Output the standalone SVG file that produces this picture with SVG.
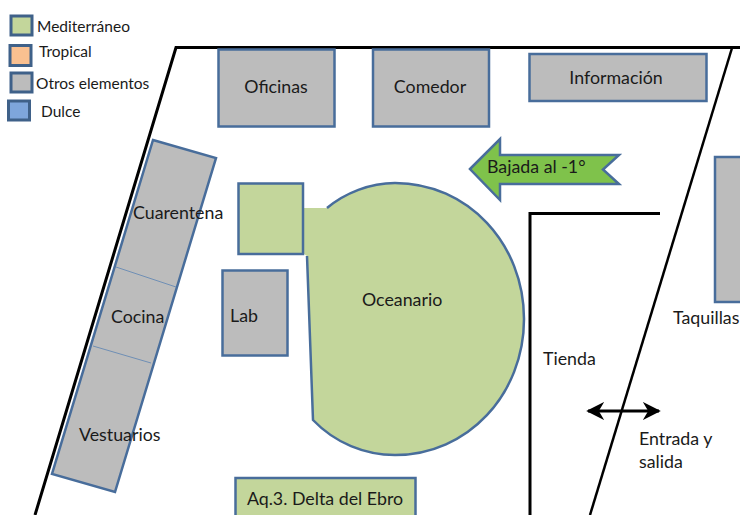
<svg xmlns="http://www.w3.org/2000/svg" width="740" height="515" viewBox="0 0 740 515">
<style>
text{font-family:Lato,"Liberation Sans",sans-serif;font-size:17.800px;fill:#1a1a1a}
.l{font-size:15.500px}
.g{fill:#bcbcbc;stroke:#486d9b;stroke-width:2.500}
.m{fill:#c3d69b;stroke:#486d9b;stroke-width:2.500}
.w{fill:none;stroke:#000;stroke-width:3}
.lg{stroke:#3f6189;stroke-width:3}
</style>
<defs>
<marker id="ah" viewBox="0 0 10 10" refX="9" refY="5" markerWidth="6" markerHeight="6" markerUnits="strokeWidth" orient="auto-start-reverse"><path d="M0,0L10,5L0,10L3,5Z" fill="#000"/></marker>
</defs>
<g id="walls">
<path class="w" d="M740,47.500H176L35,515"/>
<path class="w" style="stroke-width:2.500" d="M732,48L590,515"/>
<path class="w" d="M660,213.500H530V515"/>
</g>
<g id="legend">
<g id="legend-mediterraneo"><rect class="m lg" x="11" y="16" width="21" height="19"/><text class="l" x="37" y="32">Mediterráneo</text></g>
<g id="legend-tropical"><rect x="10" y="45.500" width="21" height="20" fill="#fac090" class="lg"/><text class="l" x="39" y="57">Tropical</text></g>
<g id="legend-otros"><rect class="g lg" x="11" y="73" width="21" height="19"/><text class="l" x="36" y="89">Otros elementos</text></g>
<g id="legend-dulce"><rect x="8.500" y="101" width="21" height="19" fill="#7ea6dc" class="lg"/><text class="l" x="41" y="117">Dulce</text></g>
</g>
<g id="oficinas"><rect class="g" x="218.500" y="49.500" width="116" height="77"/><text x="276" y="93" text-anchor="middle">Oficinas</text></g>
<g id="comedor"><rect class="g" x="373" y="49.500" width="116" height="77"/><text x="430" y="93" text-anchor="middle">Comedor</text></g>
<g id="informacion"><rect class="g" x="529.500" y="54" width="177" height="47"/><text x="616" y="84" text-anchor="middle">Información</text></g>
<g id="bajada"><path d="M470,169L500,139V155H619L603,169.500L619,184H500V200Z" fill="#7fc24b" stroke="#486d9b" stroke-width="2.500"/><text x="487" y="173">Bajada al -1°</text></g>
<g id="taquillas"><rect class="g" x="715" y="157" width="40" height="145"/><text x="673" y="324">Taquillas</text></g>
<g id="edificio-izq">
<path class="g" d="M153,140L216,158L115,492L52,474Z"/>
<path d="M116,267L176,287M93,346L151,363" fill="none" stroke="#6f8fb5" stroke-width="1"/>
<text x="133" y="219">Cuarentena</text>
<text x="111" y="323">Cocina</text>
<text x="79" y="441">Vestuarios</text>
</g>
<g id="oceanario">
<path d="M304,208H327C345,193 370,183 395,183C468,183 524,244 524,319C524,394 468,455 395,455C365,455 335,443 313,420L307,256L304,254Z" fill="#c3d69b"/>
<path d="M327,208C345,193 370,183 395,183C468,183 524,244 524,319C524,394 468,455 395,455C365,455 335,443 313,420L307,256" fill="none" stroke="#486d9b" stroke-width="2.500"/>
<text x="362" y="306">Oceanario</text>
</g>
<g id="cuarentena-tanque"><rect class="m" x="238.500" y="183.500" width="64.500" height="70.500"/></g>
<g id="lab"><rect class="g" x="222.500" y="270.500" width="65" height="85"/><text x="230" y="322">Lab</text></g>
<g id="tienda"><text x="543" y="365">Tienda</text></g>
<g id="aq3"><rect class="m" x="235.500" y="478" width="180" height="50"/><text x="325" y="505" text-anchor="middle">Aq.3. Delta del Ebro</text></g>
<g id="connectors"><path d="M588,411H659" fill="none" stroke="#000" stroke-width="3" marker-start="url(#ah)" marker-end="url(#ah)"/></g>
<g id="entrada"><text x="639" y="445">Entrada y</text><text x="639" y="468">salida</text></g>
</svg>
